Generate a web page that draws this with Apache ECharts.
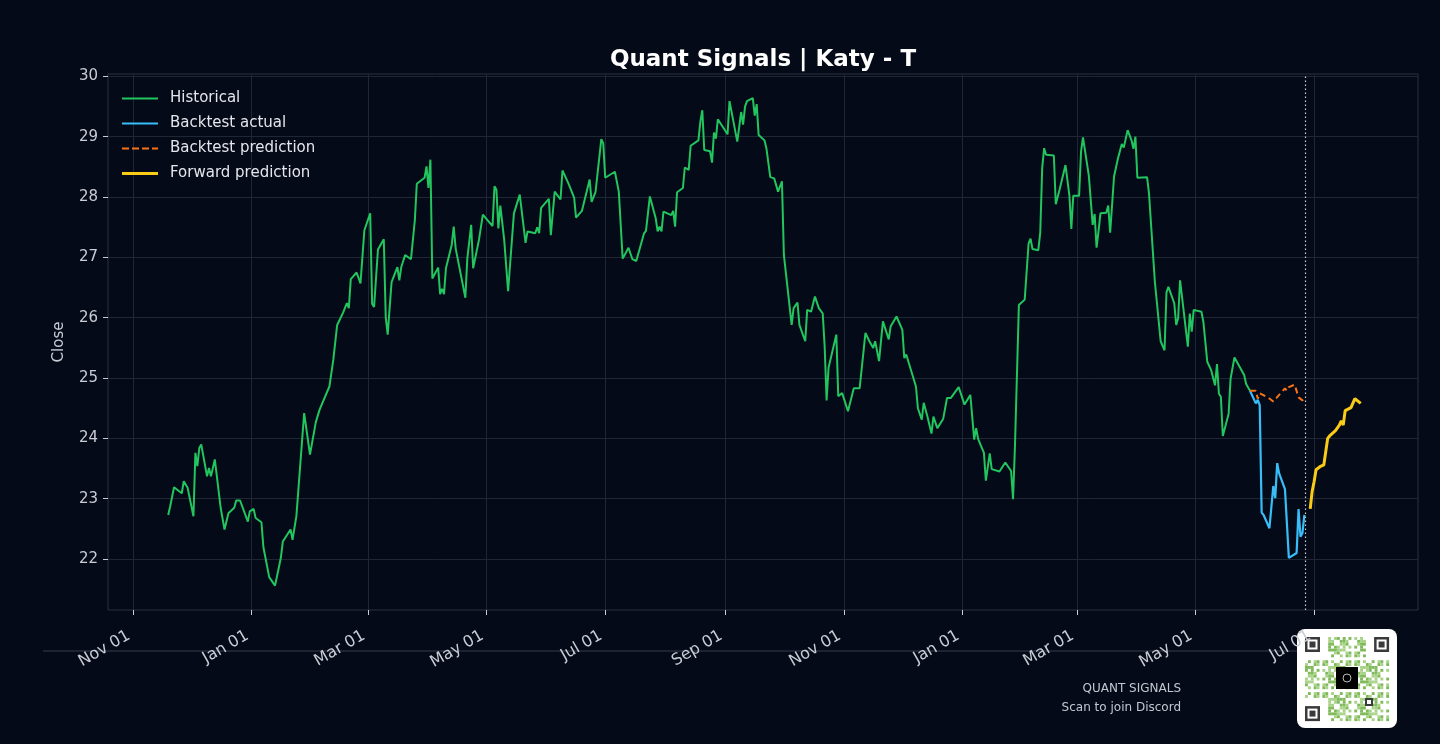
<!DOCTYPE html>
<html lang="en">
<head>
  <meta charset="UTF-8">
  <title>Quant Signals | Katy - T</title>
  <script src="https://cdn.jsdelivr.net/npm/echarts@6/dist/echarts.min.js"></script>
  <style>
    html, body {
      margin: 0;
      padding: 0;
      background: #050a18;
    }
    #chart {
      width: 1440px;
      height: 744px;
    }
  </style>
</head>
<body>
  <div id="chart"></div>
  <script>
    // historical close
    const histDates = [
      '2023-11-19','2023-11-20','2023-11-22','2023-11-26','2023-11-27','2023-11-29','2023-12-02','2023-12-03','2023-12-04','2023-12-05',
      '2023-12-06','2023-12-09','2023-12-10','2023-12-11','2023-12-13','2023-12-16','2023-12-18','2023-12-20','2023-12-23','2023-12-24',
      '2023-12-26','2023-12-30','2023-12-31','2024-01-02','2024-01-03','2024-01-06','2024-01-07','2024-01-10','2024-01-13','2024-01-14',
      '2024-01-16','2024-01-17','2024-01-21','2024-01-22','2024-01-24','2024-01-28','2024-01-31','2024-02-03','2024-02-04','2024-02-05',
      '2024-02-06','2024-02-10','2024-02-12','2024-02-14','2024-02-17','2024-02-19','2024-02-20','2024-02-21','2024-02-24','2024-02-26',
      '2024-02-28','2024-03-02','2024-03-03','2024-03-04','2024-03-06','2024-03-09','2024-03-10','2024-03-11','2024-03-13','2024-03-16',
      '2024-03-17','2024-03-18','2024-03-19','2024-03-20','2024-03-23','2024-03-25','2024-03-26','2024-03-27','2024-03-30','2024-03-31',
      '2024-04-01','2024-04-02','2024-04-03','2024-04-06','2024-04-07','2024-04-08','2024-04-09','2024-04-10','2024-04-13','2024-04-14',
      '2024-04-15','2024-04-16','2024-04-20','2024-04-21','2024-04-23','2024-04-24','2024-04-27','2024-04-28','2024-04-29','2024-05-04',
      '2024-05-05','2024-05-06','2024-05-07','2024-05-08','2024-05-10','2024-05-12','2024-05-13','2024-05-15','2024-05-18','2024-05-21',
      '2024-05-22','2024-05-26','2024-05-27','2024-05-28','2024-05-29','2024-06-02','2024-06-03','2024-06-05','2024-06-08','2024-06-09',
      '2024-06-12','2024-06-15','2024-06-16','2024-06-17','2024-06-19','2024-06-23','2024-06-24','2024-06-26','2024-06-29','2024-06-30',
      '2024-07-01','2024-07-06','2024-07-08','2024-07-10','2024-07-13','2024-07-15','2024-07-16','2024-07-17','2024-07-21','2024-07-22',
      '2024-07-24','2024-07-27','2024-07-28','2024-07-29','2024-07-30','2024-07-31','2024-08-04','2024-08-05','2024-08-06','2024-08-07',
      '2024-08-10','2024-08-11','2024-08-13','2024-08-14','2024-08-15','2024-08-18','2024-08-19','2024-08-20','2024-08-21','2024-08-24',
      '2024-08-25','2024-08-26','2024-08-27','2024-08-28','2024-09-02','2024-09-03','2024-09-04','2024-09-07','2024-09-09','2024-09-10',
      '2024-09-11','2024-09-12','2024-09-15','2024-09-16','2024-09-17','2024-09-18','2024-09-21','2024-09-22','2024-09-24','2024-09-26',
      '2024-09-28','2024-09-29','2024-09-30','2024-10-01','2024-10-02','2024-10-05','2024-10-06','2024-10-08','2024-10-09','2024-10-12',
      '2024-10-13','2024-10-15','2024-10-17','2024-10-19','2024-10-21','2024-10-22','2024-10-23','2024-10-24','2024-10-28','2024-10-29',
      '2024-10-31','2024-11-03','2024-11-06','2024-11-09','2024-11-12','2024-11-13','2024-11-14','2024-11-16','2024-11-17','2024-11-19',
      '2024-11-21','2024-11-24','2024-11-25','2024-11-26','2024-11-28','2024-12-01','2024-12-02','2024-12-03','2024-12-08','2024-12-09',
      '2024-12-11','2024-12-12','2024-12-14','2024-12-16','2024-12-17','2024-12-19','2024-12-22','2024-12-24','2024-12-26','2024-12-30',
      '2025-01-02','2025-01-05','2025-01-07','2025-01-08','2025-01-09','2025-01-12','2025-01-13','2025-01-15','2025-01-16','2025-01-20',
      '2025-01-23','2025-01-26','2025-01-27','2025-01-28','2025-01-30','2025-02-02','2025-02-04','2025-02-05','2025-02-06','2025-02-09',
      '2025-02-10','2025-02-11','2025-02-12','2025-02-13','2025-02-17','2025-02-18','2025-02-19','2025-02-20','2025-02-23','2025-02-25',
      '2025-02-26','2025-02-27','2025-03-02','2025-03-03','2025-03-04','2025-03-05','2025-03-07','2025-03-09','2025-03-10','2025-03-11',
      '2025-03-12','2025-03-13','2025-03-16','2025-03-17','2025-03-18','2025-03-20','2025-03-22','2025-03-24','2025-03-25','2025-03-27',
      '2025-03-29','2025-03-30','2025-03-31','2025-04-01','2025-04-06','2025-04-07','2025-04-10','2025-04-13','2025-04-14','2025-04-15',
      '2025-04-16','2025-04-17','2025-04-20','2025-04-21','2025-04-22','2025-04-23','2025-04-27','2025-04-28','2025-04-29','2025-04-30',
      '2025-05-04','2025-05-05','2025-05-07','2025-05-09','2025-05-11','2025-05-12','2025-05-13','2025-05-14','2025-05-15','2025-05-18',
      '2025-05-19','2025-05-20','2025-05-21','2025-05-26','2025-05-27','2025-05-28','2025-05-29'
    ]
    const histClose = [
      22.73, 22.87, 23.19, 23.09, 23.29, 23.18, 22.71, 23.76, 23.54, 23.84,
      23.90, 23.37, 23.51, 23.37, 23.65, 22.85, 22.49, 22.76, 22.85, 22.97,
      22.97, 22.62, 22.79, 22.83, 22.68, 22.61, 22.20, 21.70, 21.56, 21.71,
      22.02, 22.29, 22.49, 22.32, 22.71, 24.42, 23.73, 24.27, 24.27, 24.48,
      24.48, 24.86, 25.30, 25.88, 26.08, 26.24, 26.16, 26.64, 26.75, 26.57,
      27.45, 27.73, 26.23, 26.18, 27.13, 27.30, 26.01, 25.72, 26.59, 26.84,
      26.62, 26.84, 26.82, 27.04, 26.97, 27.62, 28.22, 28.22, 28.32, 28.51,
      28.15, 28.62, 26.65, 26.83, 26.39, 26.48, 26.39, 26.82, 27.21, 27.51,
      27.15, 27.17, 26.33, 26.98, 27.54, 26.82, 27.29, 27.32, 27.71, 27.52,
      28.18, 28.12, 27.48, 27.86, 27.29, 26.44, 26.44, 27.73, 28.04, 27.24,
      27.43, 27.40, 27.50, 27.40, 27.82, 27.97, 27.37, 28.09, 27.96, 28.44,
      28.23, 27.99, 27.66, 27.66, 27.77, 28.29, 27.92, 28.08, 28.96, 28.89,
      28.32, 28.42, 28.09, 26.98, 27.16, 26.97, 26.98, 26.94, 27.40, 27.44,
      28.01, 27.65, 27.43, 27.51, 27.43, 27.76, 27.70, 27.77, 27.51, 28.08,
      28.15, 28.49, 28.45, 28.85, 28.88, 28.94, 29.25, 29.44, 28.78, 28.76,
      28.57, 29.07, 28.97, 29.29, 29.04, 29.59, 29.60, 28.92, 29.41, 29.20,
      29.50, 29.59, 29.64, 29.35, 29.54, 29.03, 28.94, 28.81, 28.33, 28.31,
      28.09, 28.08, 28.26, 27.04, 27.06, 25.88, 26.16, 26.25, 25.88, 25.61,
      26.13, 26.10, 26.35, 26.16, 26.07, 25.52, 24.63, 25.17, 25.72, 24.70,
      24.75, 24.45, 24.83, 24.83, 25.75, 25.76, 25.61, 25.50, 25.61, 25.28,
      25.94, 25.64, 25.86, 25.86, 26.02, 25.80, 25.33, 25.39, 24.86, 24.50,
      24.31, 24.59, 24.35, 24.08, 24.36, 24.17, 24.32, 24.67, 24.67, 24.85,
      24.56, 24.72, 23.98, 24.17, 23.99, 23.76, 23.30, 23.75, 23.49, 23.45,
      23.60, 23.46, 22.99, 23.89, 26.21, 26.30, 27.23, 27.31, 27.14, 27.12,
      27.41, 28.48, 28.81, 28.70, 28.69, 27.88, 27.90, 28.13, 28.53, 28.03,
      27.47, 28.02, 28.02, 28.75, 28.99, 28.97, 28.36, 27.54, 27.72, 27.16,
      27.43, 27.73, 27.74, 27.86, 27.41, 28.34, 28.64, 28.88, 28.82, 29.11,
      28.94, 28.80, 29.00, 28.32, 28.33, 28.06, 26.60, 25.61, 25.61, 25.46,
      26.42, 26.51, 26.24, 25.88, 25.99, 26.62, 25.52, 26.07, 25.77, 26.13,
      26.10, 25.93, 25.27, 25.13, 24.88, 25.23, 24.74, 24.69, 24.04, 24.41,
      24.99, 24.99, 25.34, 25.05, 24.90, 24.87, 24.79
    ]

    // backtest window
    const backDates = [
      '2025-05-29','2025-06-01','2025-06-02','2025-06-03','2025-06-04','2025-06-05','2025-06-08','2025-06-10','2025-06-11',
      '2025-06-12','2025-06-13','2025-06-16','2025-06-18','2025-06-22','2025-06-23','2025-06-24','2025-06-25','2025-06-26'
    ]
    const backActual = [
      24.79, 24.58, 24.64, 24.55, 22.77, 22.73, 22.51, 23.21, 23.01,
      23.59, 23.42, 23.16, 22.02, 22.10, 22.83, 22.37, 22.43, 22.73
    ]
    const predDates = [
      '2025-05-29','2025-06-01','2025-06-02','2025-06-03','2025-06-08','2025-06-10','2025-06-13',
      '2025-06-16','2025-06-17','2025-06-18','2025-06-21','2025-06-23','2025-06-25','2025-06-26'
    ]
    const backPred = [
      24.79, 24.79, 24.66, 24.75, 24.66, 24.61, 24.72,
      24.83, 24.79, 24.85, 24.89, 24.68, 24.63, 24.68
    ]

    // forward prediction
    const fwdDates = [
      '2025-06-29','2025-06-30','2025-07-01','2025-07-02','2025-07-04','2025-07-06','2025-07-08','2025-07-09','2025-07-12',
      '2025-07-14','2025-07-15','2025-07-16','2025-07-17','2025-07-20','2025-07-22','2025-07-23','2025-07-25'
    ]
    const fwdPred = [
      22.83, 23.12, 23.28, 23.48, 23.53, 23.56, 24.00, 24.04, 24.13,
      24.22, 24.29, 24.22, 24.46, 24.51, 24.66, 24.68, 24.58
    ]

    const xTickDates = ['2023-11-01','2024-01-01','2024-03-01','2024-05-01','2024-07-01','2024-09-01',
      '2024-11-01','2025-01-01','2025-03-01','2025-05-01','2025-07-01']
    const xTickLabels = ['Nov 01','Jan 01','Mar 01','May 01','Jul 01','Sep 01',
      'Nov 01','Jan 01','Mar 01','May 01','Jul 01']
    const yTicks = [22, 23, 24, 25, 26, 27, 28, 29, 30]

    function toTime(s) {
      const p = s.split(/[- :]/)
      return new Date(+p[0], +p[1] - 1, +p[2], +(p[3] || 0)).getTime()
    }
    function pairs(dates, vals) {
      return dates.map((d, i) => [toTime(d), vals[i]])
    }

    const tickTimes = xTickDates.map(toTime)
    const DAY = 86400000
    const txt = '#c9ccd4'
    const gridCol = '#1f2634'
    const font = '"DejaVu Sans", sans-serif'

    // legend glyphs: thin bars, keepAspect squeezes them to a line
    const solidIcon = 'path://M0,0h36v2h-36z'
    const thickIcon = 'path://M0,0h36v3h-36z'
    const dashIcon = 'path://M0,0h7v2h-7z M10,0h7v2h-7z M20,0h7v2h-7z M30,0h6v2h-6z'

    // qr-ish badge, purely decorative
    function qrBadge(x0, y0) {
      const kids = [{
        type: 'rect', shape: { x: x0, y: y0, width: 100, height: 99, r: 8 },
        style: { fill: '#ffffff' }
      }]
      const n = 29, cell = 2.9, ox = x0 + 8, oy = y0 + 8
      for (let i = 0; i < n; i++) {
        for (let j = 0; j < n; j++) {
          if ((i < 8 && j < 8) || (i < 8 && j > n - 9) || (i > n - 9 && j < 8)) continue
          const h = (i * 31 + j * 17 + i * j * 7) % 11
          if (h < 6) {
            kids.push({
              type: 'rect',
              shape: { x: ox + j * cell, y: oy + i * cell, width: cell, height: cell },
              style: { fill: h < 3 ? '#7fb95a' : '#a7d287' }
            })
          }
        }
      }
      const finder = (fx, fy) => {
        kids.push({ type: 'rect', shape: { x: fx, y: fy, width: 15, height: 15 }, style: { fill: '#3a3a3a' } })
        kids.push({ type: 'rect', shape: { x: fx + 2.5, y: fy + 2.5, width: 10, height: 10 }, style: { fill: '#ffffff' } })
        kids.push({ type: 'rect', shape: { x: fx + 4.5, y: fy + 4.5, width: 6, height: 6 }, style: { fill: '#3a3a3a' } })
      }
      finder(ox, oy)
      finder(ox + n * cell - 15, oy)
      finder(ox, oy + n * cell - 15)
      kids.push({ type: 'rect', shape: { x: ox + 60, y: oy + 61, width: 8, height: 8 }, style: { fill: '#3a3a3a' } })
      kids.push({ type: 'rect', shape: { x: ox + 62, y: oy + 63, width: 4, height: 4 }, style: { fill: '#ffffff' } })
      kids.push({ type: 'rect', shape: { x: x0 + 39, y: y0 + 38, width: 22, height: 22 }, style: { fill: '#000000' } })
      kids.push({ type: 'circle', shape: { cx: x0 + 50, cy: y0 + 49, r: 4 }, style: { fill: 'none', stroke: '#bbbbbb', lineWidth: 1 } })
      return { type: 'group', children: kids, z: 10 }
    }

    const chart = echarts.init(document.getElementById('chart'), null, { renderer: 'canvas' })

    const option = {
      backgroundColor: '#050a18',
      animation: false,
      title: {
        text: 'Quant Signals | Katy - T',
        left: 758,
        textAlign: 'center',
        top: 44,
        textStyle: { color: '#ffffff', fontSize: 23, fontWeight: 'bold', fontFamily: font }
      },
      legend: {
        orient: 'vertical',
        left: 122,
        top: 91,
        padding: 0,
        itemWidth: 36,
        itemHeight: 14,
        itemGap: 10,
        symbolKeepAspect: true,
        textStyle: { color: '#e4e6eb', fontSize: 15, fontFamily: font, padding: [0, 0, 0, 7] },
        data: [
          { name: 'Historical', icon: solidIcon },
          { name: 'Backtest actual', icon: solidIcon },
          { name: 'Backtest prediction', icon: dashIcon },
          { name: 'Forward prediction', icon: thickIcon }
        ]
      },
      grid: {
        left: 108,
        right: 22,
        top: 74,
        bottom: 134,
        show: true,
        borderColor: '#2a3142',
        borderWidth: 1,
        outerBoundsMode: 'none'
      },
      xAxis: {
        type: 'value',
        min: toTime('2023-10-19'),
        max: toTime('2025-08-23') + DAY / 2,
        axisLine: { show: false },
        axisTick: {
          show: true, length: 5, customValues: tickTimes,
          lineStyle: { color: txt, width: 1 }
        },
        axisLabel: {
          customValues: tickTimes,
          rotate: 30,
          margin: 22,
          padding: [0, 5, 0, 0],
          color: txt,
          fontSize: 16,
          fontFamily: font,
          formatter: function (v) {
            for (let i = 0; i < tickTimes.length; i++) {
              if (Math.abs(tickTimes[i] - v) < DAY) return xTickLabels[i]
            }
            return ''
          }
        },
        splitLine: { show: true, lineStyle: { color: gridCol, width: 1 } }
      },
      yAxis: {
        type: 'value',
        min: 21.155,
        max: 30.04,
        name: 'Close',
        nameLocation: 'middle',
        nameRotate: 90,
        nameGap: 41,
        nameTextStyle: { color: txt, fontSize: 15, fontFamily: font },
        axisLine: { show: false },
        axisTick: {
          show: true, length: 5, customValues: yTicks,
          lineStyle: { color: txt, width: 1 }
        },
        axisLabel: {
          customValues: yTicks,
          color: txt,
          fontSize: 15,
          fontFamily: font,
          margin: 10
        },
        splitLine: { show: true, lineStyle: { color: gridCol, width: 1 } }
      },
      series: [
        {
          name: 'Historical',
          type: 'line',
          data: pairs(histDates, histClose),
          showSymbol: false,
          symbol: 'none',
          color: '#22c55e',
          lineStyle: { color: '#22c55e', width: 2 }
        },
        {
          name: 'Backtest actual',
          type: 'line',
          data: pairs(backDates, backActual),
          showSymbol: false,
          symbol: 'none',
          color: '#38bdf8',
          lineStyle: { color: '#38bdf8', width: 2.2 },
          markLine: {
            silent: true,
            symbol: 'none',
            label: { show: false },
            lineStyle: { color: '#c8ccd6', type: [1.5, 2.5], width: 1.2 },
            data: [{ xAxis: toTime('2025-06-26 14') }]
          }
        },
        {
          name: 'Backtest prediction',
          type: 'line',
          data: pairs(predDates, backPred),
          showSymbol: false,
          symbol: 'none',
          color: '#f97316',
          lineStyle: { color: '#f97316', width: 2, type: [6, 4] }
        },
        {
          name: 'Forward prediction',
          type: 'line',
          data: pairs(fwdDates, fwdPred),
          showSymbol: false,
          symbol: 'none',
          color: '#facc15',
          lineStyle: { color: '#facc15', width: 3 }
        }
      ],
      graphic: [
        {
          type: 'line', z: -1,
          shape: { x1: 43, y1: 651, x2: 1300, y2: 651 },
          style: { stroke: '#262d3b', lineWidth: 1.5 }
        },
        {
          type: 'text', x: 1181, y: 689,
          style: {
            text: 'QUANT SIGNALS', fill: '#c3c7d0', font: '12px "DejaVu Sans", sans-serif',
            align: 'right', verticalAlign: 'middle'
          }
        },
        {
          type: 'text', x: 1181, y: 708,
          style: {
            text: 'Scan to join Discord', fill: '#c3c7d0', font: '12px "DejaVu Sans", sans-serif',
            align: 'right', verticalAlign: 'middle'
          }
        },
        qrBadge(1297, 629)
      ]
    }

    chart.setOption(option)
  </script>
</body>
</html>
